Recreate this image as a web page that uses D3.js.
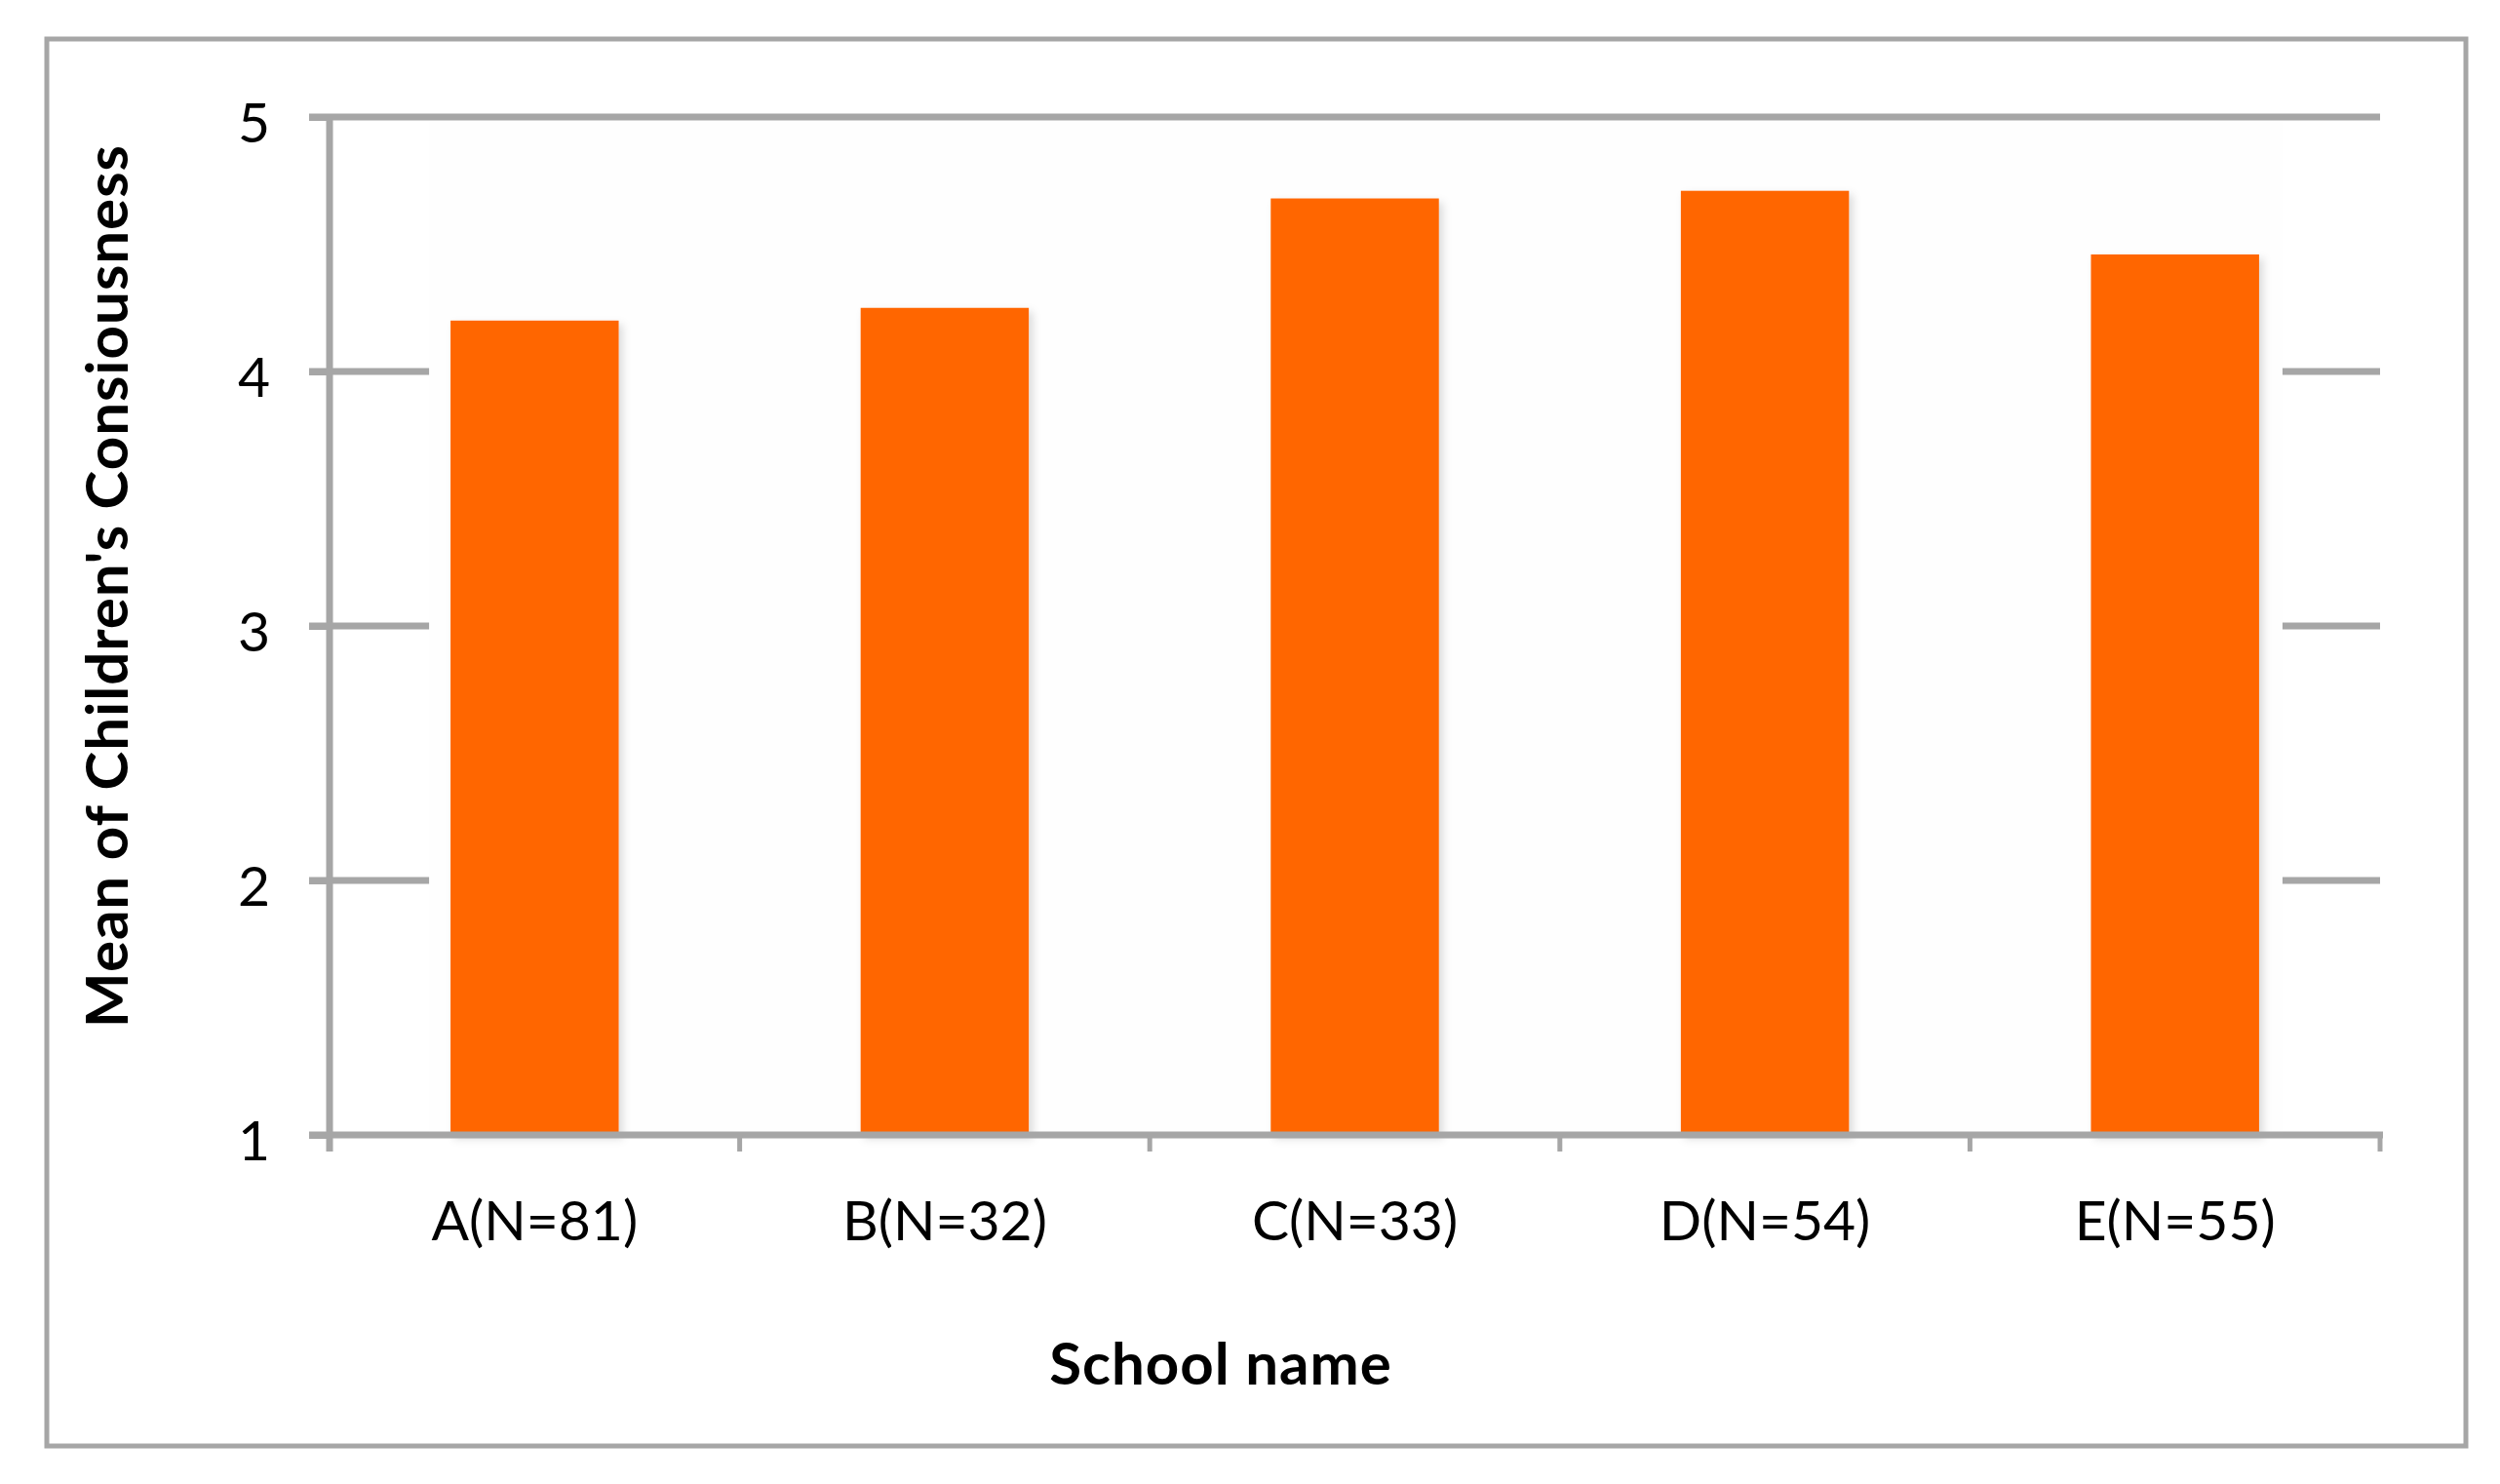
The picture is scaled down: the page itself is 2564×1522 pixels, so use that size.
<!DOCTYPE html>
<html>
<head>
<meta charset="utf-8">
<script src="https://cdn.jsdelivr.net/npm/d3@7"></script>
<style>
  body { margin: 0; background: #fff; }
  svg { display: block; font-family: Lato, "Open Sans", sans-serif; }
</style>
</head>
<body>
<svg id="chart"></svg>
<script>
const schools = ["A(N=81)", "B(N=32)", "C(N=33)", "D(N=54)", "E(N=55)"];
const means = [4.20, 4.25, 4.68, 4.71, 4.46];
const yTicks = [1, 2, 3, 4, 5];

const width = 2564, height = 1522;
const margin = {top: 120, right: 123, bottom: 358, left: 338};
const grey = "#a6a6a6";

const svg = d3.select("#chart")
    .attr("width", width)
    .attr("height", height);

// drop shadow for the bars
const defs = svg.append("defs");
const shadow = defs.append("filter")
    .attr("id", "shadow")
    .attr("x", "-20%").attr("y", "-20%")
    .attr("width", "140%").attr("height", "140%");
shadow.append("feDropShadow")
    .attr("dx", 4).attr("dy", 4)
    .attr("stdDeviation", 4)
    .attr("flood-color", "#000")
    .attr("flood-opacity", 0.14);

// outer frame
svg.append("rect")
    .attr("x", 48).attr("y", 40)
    .attr("width", 2481).attr("height", 1443)
    .attr("fill", "#fff")
    .attr("stroke", grey)
    .attr("stroke-width", 5);

const x = d3.scaleBand()
    .domain(schools)
    .range([margin.left, width - margin.right])
    .paddingInner(0.59)
    .paddingOuter(0.295);

const y = d3.scaleLinear()
    .domain([1, 5])
    .range([height - margin.bottom, margin.top]);

const x0 = x.range()[0], x1 = x.range()[1];

// gridlines
svg.append("g")
    .selectAll("line")
    .data(yTicks.slice(1))
    .join("line")
    .attr("x1", x0 - 21)
    .attr("x2", x1)
    .attr("y1", d => y(d))
    .attr("y2", d => y(d))
    .attr("stroke", grey)
    .attr("stroke-width", 7);

// the bar area hides the inner gridlines below the top one
const firstX = x(schools[0]) - 22;
const lastX = x(schools[schools.length - 1]) + x.bandwidth() + 24;
svg.append("rect")
    .attr("x", firstX)
    .attr("y", y(5) + 5)
    .attr("width", lastX - firstX)
    .attr("height", y(1) - y(5) - 9)
    .attr("fill", "#fefefe");

// bars
svg.append("g")
    .selectAll("rect")
    .data(means)
    .join("rect")
    .attr("x", (d, i) => x(schools[i]))
    .attr("y", d => y(d))
    .attr("width", x.bandwidth())
    .attr("height", d => y(1) - y(d))
    .attr("fill", "#ff6600")
    .attr("filter", "url(#shadow)");

// y axis
const yAxis = svg.append("g")
    .attr("transform", `translate(${x0},0)`)
    .call(d3.axisLeft(y).tickValues(yTicks).tickSize(21).tickPadding(40).tickFormat(d3.format("d")));
yAxis.select(".domain")
    .attr("d", `M0,${y(5)}V${y(1) + 17}`)
    .attr("stroke", grey)
    .attr("stroke-width", 7);
yAxis.selectAll(".tick line")
    .attr("stroke", grey)
    .attr("stroke-width", 7);
yAxis.selectAll(".tick text")
    .attr("font-size", 57)
    .attr("fill", "#000")
    .attr("font-family", "Lato, sans-serif")
    .attr("dy", "0.45em");

// x axis: line, ticks between categories, labels
const xAxis = svg.append("g")
    .attr("transform", `translate(0,${y(1)})`);
xAxis.append("line")
    .attr("x1", x0 - 21).attr("x2", x1 + 3)
    .attr("stroke", grey)
    .attr("stroke-width", 7);
xAxis.selectAll(".xtick")
    .data(d3.range(schools.length + 1))
    .join("line")
    .attr("class", "xtick")
    .attr("x1", i => x0 + i * x.step())
    .attr("x2", i => x0 + i * x.step())
    .attr("y1", 0).attr("y2", 17)
    .attr("stroke", grey)
    .attr("stroke-width", 5);
xAxis.selectAll(".xlabel")
    .data(schools)
    .join("text")
    .attr("class", "xlabel")
    .attr("x", d => x(d) + x.bandwidth() / 2)
    .attr("y", 108)
    .attr("text-anchor", "middle")
    .attr("font-size", 57)
    .text(d => d);

// axis titles
svg.append("text")
    .attr("x", 1252)
    .attr("y", 1420)
    .attr("text-anchor", "middle")
    .attr("font-size", 60)
    .attr("letter-spacing", 1)
    .attr("font-weight", "bold")
    .text("School name");

svg.append("text")
    .attr("transform", "translate(131,601) rotate(-90)")
    .attr("text-anchor", "middle")
    .attr("font-size", 60)
    .attr("letter-spacing", 1)
    .attr("font-weight", "bold")
    .text("Mean of Children's Consiousness");
</script>
</body>
</html>
